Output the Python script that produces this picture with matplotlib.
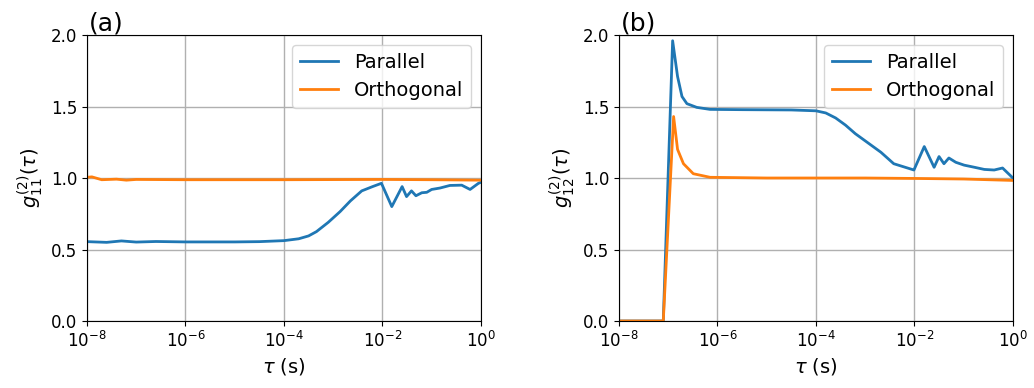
import numpy as np
import matplotlib
matplotlib.use("Agg")
import matplotlib.pyplot as plt
from matplotlib.ticker import NullLocator

# log10(tau) sample points and g2 values
# panel (a): g2_11
a_par_logt = [-8.0, -7.6, -7.3, -7.0, -6.6, -6.0, -5.0, -4.5, -4.0, -3.7, -3.5, -3.34,
              -3.1, -2.86, -2.65, -2.42, -2.2, -2.02, -1.81, -1.6, -1.51, -1.41, -1.32,
              -1.2, -1.1, -1.0, -0.83, -0.63, -0.39, -0.22, -0.05, 0.0]
a_par_g2 = [0.555, 0.55, 0.56, 0.552, 0.556, 0.553, 0.553, 0.555, 0.562, 0.575, 0.595, 0.625,
            0.69, 0.765, 0.84, 0.91, 0.94, 0.963, 0.80, 0.94, 0.87, 0.91, 0.876,
            0.897, 0.90, 0.92, 0.93, 0.948, 0.95, 0.92, 0.963, 0.97]
a_ort_logt = [-8.0, -7.9, -7.7, -7.4, -7.2, -7.0, -6.0, -4.0, -2.0, -1.0, 0.0]
a_ort_g2 = [1.005, 1.008, 0.988, 0.992, 0.985, 0.99, 0.988, 0.988, 0.99, 0.988, 0.985]

# panel (b): g2_12
b_par_logt = [-8.0, -7.5, -7.1, -6.91, -6.81, -6.72, -6.62, -6.42, -6.15, -5.5, -5.0,
              -4.5, -4.0, -3.8, -3.6, -3.4, -3.2, -3.0, -2.8, -2.68, -2.42, -2.01, -1.8,
              -1.6, -1.5, -1.4, -1.3, -1.16, -0.99, -0.78, -0.58, -0.38, -0.21, 0.0]
b_par_g2 = [0.0, 0.0, 0.0, 1.96, 1.71, 1.57, 1.52, 1.494, 1.48, 1.478, 1.477,
            1.476, 1.47, 1.455, 1.42, 1.37, 1.31, 1.26, 1.21, 1.18, 1.10, 1.056, 1.22,
            1.075, 1.15, 1.10, 1.14, 1.11, 1.09, 1.075, 1.06, 1.056, 1.07, 1.0]
b_ort_logt = [-8.0, -7.5, -7.1, -6.89, -6.81, -6.69, -6.49, -6.15, -5.0, -3.0, -2.0, -1.0, 0.0]
b_ort_g2 = [0.0, 0.0, 0.0, 1.43, 1.20, 1.10, 1.03, 1.005, 1.0, 1.0, 0.997, 0.993, 0.983]

plt.rcParams['font.size'] = 12

fig = plt.figure(figsize=(10.34, 3.88), dpi=100)
ax1 = fig.add_axes([0.0841, 0.1727, 0.381, 0.737])
ax2 = fig.add_axes([0.5986, 0.1727, 0.381, 0.737])

panels = [
    (ax1, '(a)', r'$g^{(2)}_{11}(\tau)$', a_par_logt, a_par_g2, a_ort_logt, a_ort_g2),
    (ax2, '(b)', r'$g^{(2)}_{12}(\tau)$', b_par_logt, b_par_g2, b_ort_logt, b_ort_g2),
]

for ax, tag, ylab, pl, pg, ol, og in panels:
    ax.plot(10.0 ** np.array(pl), pg, color='#1f77b4', lw=2, label='Parallel')
    ax.plot(10.0 ** np.array(ol), og, color='#ff7f0e', lw=2, label='Orthogonal')
    ax.set_xscale('log')
    ax.set_xlim(1e-8, 1e0)
    ax.set_ylim(0, 2)
    ax.set_xticks([1e-8, 1e-6, 1e-4, 1e-2, 1e0])
    ax.xaxis.set_minor_locator(NullLocator())
    ax.set_yticks([0, 0.5, 1.0, 1.5, 2.0])
    ax.grid(True, color='#b0b0b0', lw=1)
    ax.set_xlabel(r'$\tau$ (s)', fontsize=14)
    ax.set_ylabel(ylab, fontsize=14)
    ax.set_title(tag, loc='left', fontsize=18, pad=3, x=0.005)
    ax.legend(loc='upper right', fontsize=14)

fig.savefig('out.png', dpi=100)
